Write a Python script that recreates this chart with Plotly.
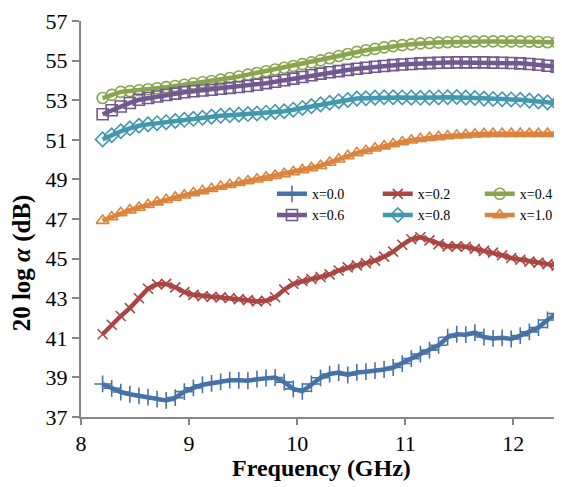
import plotly.graph_objects as go

freq = [8.2, 8.284, 8.368, 8.452, 8.536, 8.62, 8.704, 8.788, 8.872, 8.956, 9.04, 9.124,
        9.208, 9.292, 9.376, 9.46, 9.544, 9.628, 9.712, 9.796, 9.88, 9.964, 10.048,
        10.132, 10.216, 10.3, 10.384, 10.468, 10.552, 10.636, 10.72, 10.804, 10.888,
        10.972, 11.056, 11.14, 11.224, 11.308, 11.392, 11.476, 11.56, 11.644, 11.728,
        11.812, 11.896, 11.98, 12.064, 12.148, 12.232, 12.316, 12.4]

x00 = [38.67, 38.45, 38.26, 38.15, 38.07, 38.00, 37.90, 37.84, 37.98, 38.28, 38.47, 38.63,
       38.70, 38.77, 38.86, 38.85, 38.83, 38.91, 38.97, 38.99, 38.76, 38.42, 38.30, 38.67,
       38.98, 39.17, 39.24, 39.12, 39.25, 39.29, 39.34, 39.40, 39.50, 39.70, 39.95, 40.18,
       40.38, 40.62, 41.03, 41.18, 41.16, 41.26, 41.04, 40.97, 41.00, 40.94, 41.11, 41.30,
       41.52, 41.90, 42.22]
x02 = [41.18, 41.66, 42.10, 42.50, 43.00, 43.48, 43.70, 43.72, 43.55, 43.31, 43.17, 43.10,
       43.07, 43.04, 43.01, 42.95, 42.90, 42.84, 42.87, 43.05, 43.43, 43.73, 43.87, 43.97,
       44.07, 44.20, 44.40, 44.56, 44.66, 44.77, 44.90, 45.10, 45.35, 45.70, 45.98, 46.08,
       45.92, 45.73, 45.62, 45.62, 45.60, 45.49, 45.39, 45.30, 45.17, 45.03, 44.94, 44.85,
       44.80, 44.72, 44.64]
x04 = [53.11, 53.27, 53.42, 53.46, 53.50, 53.55, 53.60, 53.66, 53.72, 53.78, 53.84, 53.91,
       53.97, 54.04, 54.12, 54.20, 54.29, 54.37, 54.46, 54.55, 54.64, 54.73, 54.82, 54.91,
       55.01, 55.12, 55.23, 55.33, 55.44, 55.52, 55.59, 55.67, 55.73, 55.78, 55.82, 55.87,
       55.89, 55.91, 55.93, 55.95, 55.96, 55.96, 55.97, 55.97, 55.97, 55.97, 55.97, 55.96,
       55.95, 55.93, 55.92]
x06 = [52.29, 52.49, 52.68, 52.86, 53.02, 53.11, 53.19, 53.26, 53.33, 53.40, 53.45, 53.49,
       53.53, 53.58, 53.62, 53.67, 53.72, 53.78, 53.86, 53.93, 54.01, 54.09, 54.17, 54.26,
       54.34, 54.41, 54.47, 54.53, 54.59, 54.64, 54.69, 54.73, 54.77, 54.80, 54.83, 54.86,
       54.87, 54.89, 54.90, 54.91, 54.91, 54.91, 54.91, 54.90, 54.89, 54.88, 54.86, 54.83,
       54.79, 54.74, 54.69]
x08 = [51.02, 51.23, 51.43, 51.58, 51.71, 51.78, 51.84, 51.89, 51.95, 52.01, 52.06, 52.11,
       52.17, 52.21, 52.24, 52.27, 52.30, 52.33, 52.37, 52.41, 52.44, 52.52, 52.61, 52.70,
       52.79, 52.87, 52.95, 53.01, 53.08, 53.10, 53.13, 53.15, 53.15, 53.14, 53.13, 53.12,
       53.13, 53.14, 53.15, 53.16, 53.13, 53.11, 53.08, 53.06, 53.05, 53.04, 53.02, 52.98,
       52.94, 52.89, 52.85]
x10 = [46.92, 47.10, 47.31, 47.45, 47.58, 47.72, 47.85, 47.97, 48.09, 48.20, 48.31, 48.42,
       48.53, 48.64, 48.73, 48.83, 48.92, 49.01, 49.10, 49.19, 49.28, 49.38, 49.48, 49.58,
       49.69, 49.85, 50.02, 50.19, 50.34, 50.45, 50.57, 50.68, 50.79, 50.89, 50.98, 51.05,
       51.10, 51.15, 51.19, 51.23, 51.25, 51.28, 51.30, 51.31, 51.31, 51.31, 51.31, 51.31,
       51.31, 51.31, 51.31]

series_names = ["x=0.0", "x=0.2", "x=0.4", "x=0.6", "x=0.8", "x=1.0"]
series_values = [x00, x02, x04, x06, x08, x10]
colors = ["#4572A7", "#AA4643", "#89A54E", "#71588F", "#4198AF", "#DB843D"]
symbols = ["cross-thin", "x-thin", "circle-open", "square-open", "diamond-open", "triangle-up-open"]
msizes = [12, 10, 11, 11, 11, 11]
legend_ids = ["legend", "legend2", "legend3", "legend", "legend2", "legend3"]
x_ticks = [8, 9, 10, 11, 12]
y_ticks = [37, 39, 41, 43, 45, 47, 49, 51, 53, 55, 57]

fig = go.Figure()
for i, (name, vals) in enumerate(zip(series_names, series_values)):
    fig.add_trace(go.Scatter(
        x=freq, y=vals, name=name, mode="lines+markers",
        line=dict(color=colors[i], width=4.5),
        marker=dict(symbol=symbols[i], size=msizes[i], color=colors[i],
                    line=dict(color=colors[i], width=1.6)),
        legend=legend_ids[i],
    ))

serif = "Liberation Serif, Times New Roman, serif"
legend_common = dict(orientation="v", xanchor="left", yanchor="top",
                     bgcolor="rgba(0,0,0,0)", borderwidth=0,
                     font=dict(family=serif, size=14, color="#000000"),
                     itemwidth=30, tracegroupgap=0)
# page body has an 8px margin, so the figure is 8px smaller than the window
fig.update_layout(
    width=554, height=479,
    margin=dict(l=73, r=0, t=13, b=70),
    paper_bgcolor="white", plot_bgcolor="white",
    showlegend=True,
    legend=dict(x=0.397, y=0.603, **legend_common),
    legend2=dict(x=0.617, y=0.603, **legend_common),
    legend3=dict(x=0.829, y=0.603, **legend_common),
    xaxis=dict(range=[8, 12.45], tickvals=x_ticks, ticks="outside", ticklen=6,
               tickcolor="#868686", tickwidth=1.5, showline=True, linecolor="#868686",
               linewidth=2, showgrid=False, zeroline=False, automargin=False,
               tickfont=dict(family=serif, size=22, color="#000000")),
    yaxis=dict(range=[37, 57], tickvals=y_ticks, ticks="outside", ticklen=7,
               tickcolor="#868686", tickwidth=1.5, showline=True, linecolor="#868686",
               linewidth=2, showgrid=False, zeroline=False, automargin=False,
               ticklabeloverflow="allow",
               tickfont=dict(family=serif, size=22, color="#000000")),
    annotations=[
        dict(text="<b>Frequency (GHz)</b>", xref="paper", yref="paper", x=0.5, y=0,
             yshift=-51, xanchor="center", yanchor="middle", showarrow=False,
             font=dict(family=serif, size=24, color="#000000")),
        dict(text="<b>20 log <i>α</i> (dB)</b>", xref="paper", yref="paper", x=0, y=0.388,
             xshift=-59, xanchor="center", yanchor="middle", textangle=-90, showarrow=False,
             font=dict(family=serif, size=25, color="#000000")),
    ],
)

fig.write_html("out.html")
